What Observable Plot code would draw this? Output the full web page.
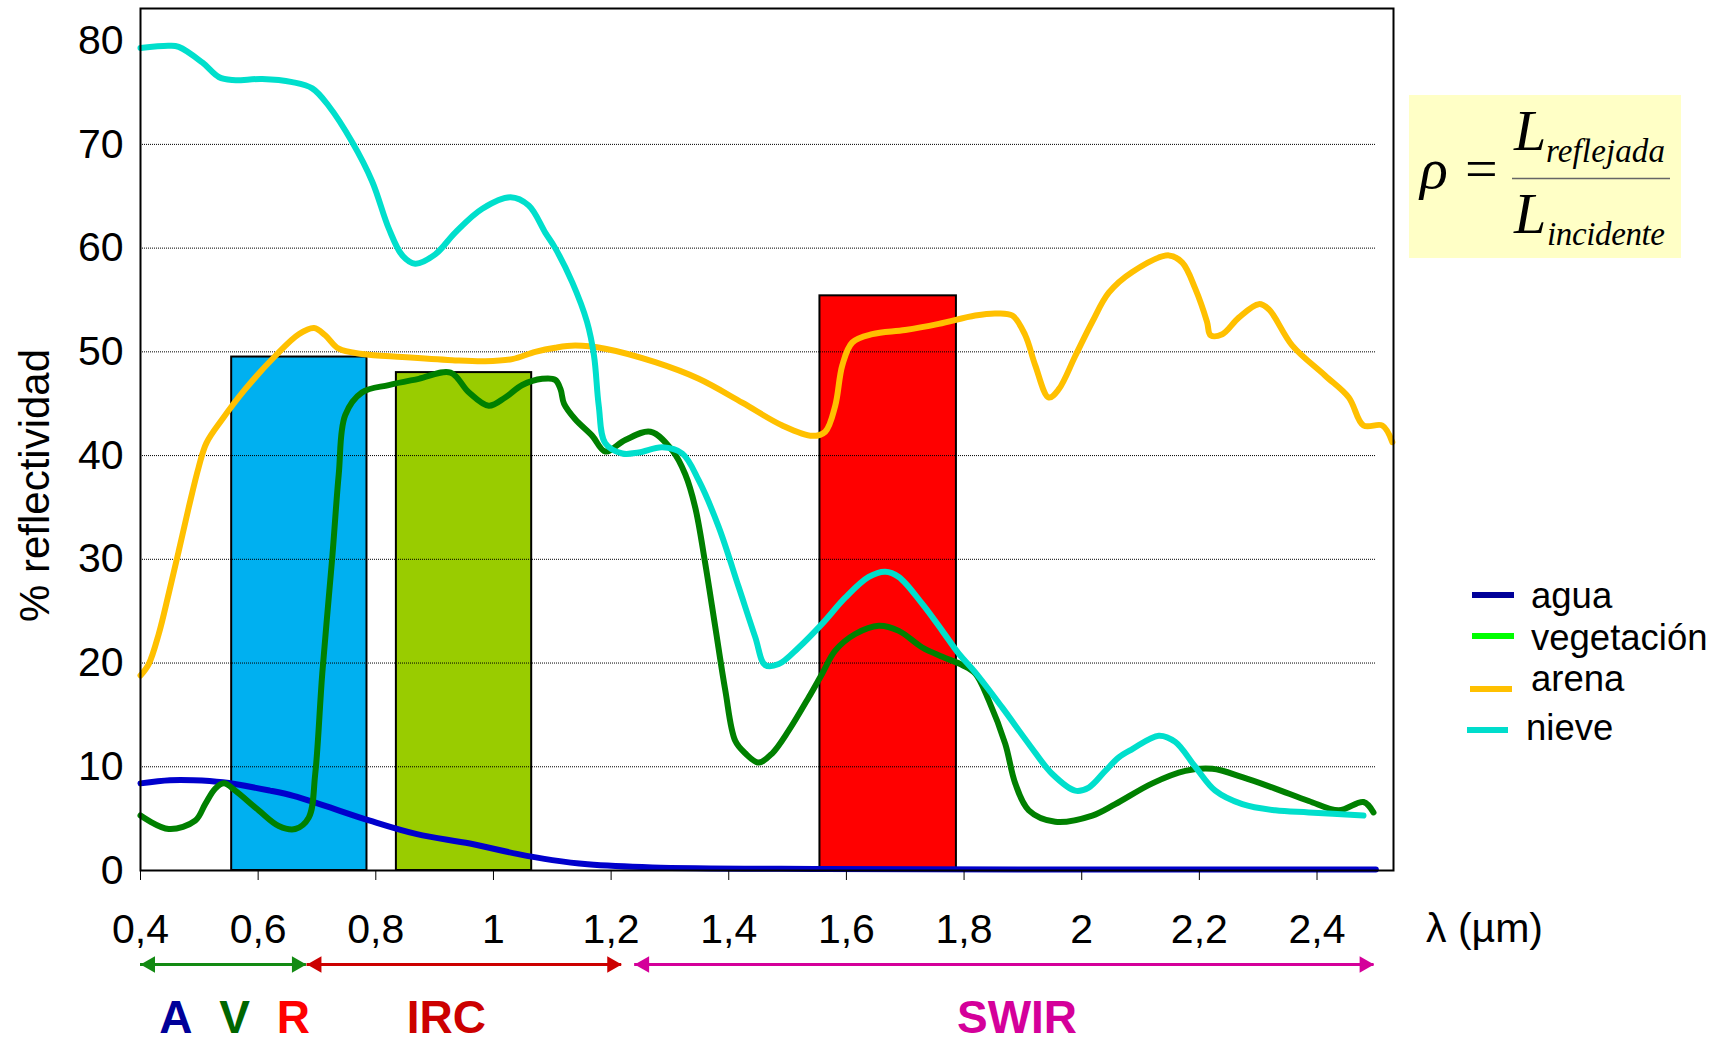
<!DOCTYPE html>
<html lang="es">
<head>
<meta charset="utf-8">
<script src="https://cdn.jsdelivr.net/npm/d3@7"></script>
<script src="https://cdn.jsdelivr.net/npm/@observablehq/plot@0.6"></script>
<style>
  html, body { margin: 0; padding: 0; background: #fff; }
  #wrap { position: relative; width: 1723px; height: 1046px; overflow: hidden; font-family: 'Liberation Sans', Arial, sans-serif; }
  #formula { position: absolute; left: 1409px; top: 95px; width: 272px; height: 163px; background: #FFFFC6; }
  #legend { position: absolute; left: 1460px; top: 570px; }
</style>
</head>
<body>
<div id="wrap"></div>
<script>
// Spectral reflectance curves: [wavelength µm, % reflectance]
const agua = [[0.40,8.4],[0.45,8.7],[0.49,8.7],[0.54,8.5],[0.62,7.7],[0.66,7.2],[0.71,6.3],[0.79,4.8],[0.87,3.5],[0.96,2.6],[1.04,1.6],[1.10,1.0],[1.16,0.6],[1.27,0.3],[1.56,0.15],[2.0,0.1],[2.5,0.1]];

const vegetacion = [[0.40,5.3],[0.448,4.0],[0.493,4.8],[0.51,6.4],[0.527,7.9],[0.542,8.4],[0.561,7.7],[0.601,5.8],[0.635,4.3],[0.663,4.0],[0.686,5.1],[0.697,9.3],[0.709,19.0],[0.726,30.2],[0.737,38.2],[0.748,43.9],[0.777,46.1],[0.822,46.8],[0.873,47.4],[0.927,48.0],[0.958,46.1],[0.992,44.8],[1.02,45.6],[1.049,46.8],[1.083,47.4],[1.105,47.3],[1.114,46.4],[1.12,45.0],[1.139,43.5],[1.168,41.9],[1.19,40.4],[1.224,41.5],[1.267,42.3],[1.304,40.5],[1.326,38.2],[1.343,35.0],[1.36,29.6],[1.377,23.5],[1.394,17.4],[1.411,12.5],[1.428,11.3],[1.451,10.4],[1.474,11.3],[1.502,13.5],[1.536,16.7],[1.559,19.0],[1.581,21.2],[1.615,22.8],[1.655,23.6],[1.689,23.1],[1.729,21.5],[1.763,20.6],[1.797,19.8],[1.819,19.0],[1.842,16.4],[1.87,12.2],[1.887,8.4],[1.91,5.8],[1.955,4.7],[2.018,5.3],[2.057,6.4],[2.12,8.4],[2.176,9.6],[2.222,9.8],[2.273,9.0],[2.329,7.9],[2.386,6.7],[2.437,5.8],[2.479,6.6],[2.496,5.6]];

const arena = [[0.40,18.8],[0.414,19.9],[0.431,22.8],[0.448,26.7],[0.465,30.8],[0.482,35.0],[0.499,38.9],[0.512,41.2],[0.539,43.5],[0.578,46.4],[0.629,49.6],[0.669,51.7],[0.695,52.3],[0.714,51.6],[0.737,50.3],[0.777,49.8],[0.845,49.5],[0.93,49.2],[0.986,49.1],[1.032,49.3],[1.071,50.0],[1.105,50.4],[1.139,50.6],[1.19,50.3],[1.275,49.0],[1.349,47.4],[1.423,45.1],[1.491,42.9],[1.542,41.9],[1.564,42.3],[1.581,44.8],[1.593,48.7],[1.61,50.9],[1.644,51.7],[1.70,52.1],[1.757,52.7],[1.819,53.5],[1.853,53.7],[1.882,53.5],[1.904,51.6],[1.921,48.7],[1.944,45.6],[1.961,46.4],[1.989,49.6],[2.018,52.9],[2.046,55.7],[2.086,57.7],[2.148,59.3],[2.171,58.6],[2.193,56.1],[2.213,52.9],[2.219,51.6],[2.239,51.7],[2.267,53.3],[2.301,54.6],[2.318,54.1],[2.358,50.6],[2.414,47.7],[2.454,45.6],[2.479,42.9],[2.511,42.9],[2.528,41.3]];

const nieve = [[0.40,79.3],[0.448,79.5],[0.465,79.4],[0.505,77.9],[0.533,76.5],[0.556,76.2],[0.607,76.3],[0.658,76.0],[0.692,75.4],[0.72,73.7],[0.76,70.2],[0.794,66.4],[0.822,61.9],[0.845,59.3],[0.867,58.5],[0.901,59.4],[0.935,61.5],[0.981,63.8],[1.029,64.9],[1.06,64.1],[1.088,61.5],[1.105,60.0],[1.134,56.7],[1.159,52.9],[1.171,49.6],[1.179,44.8],[1.19,41.2],[1.219,40.2],[1.247,40.3],[1.287,40.8],[1.321,40.2],[1.349,37.6],[1.383,33.1],[1.417,27.3],[1.445,22.5],[1.462,19.8],[1.485,19.9],[1.519,21.5],[1.559,23.8],[1.598,26.3],[1.638,28.3],[1.666,28.8],[1.689,28.3],[1.729,25.7],[1.763,23.1],[1.791,20.9],[1.819,19.1],[1.865,15.7],[1.91,12.2],[1.95,9.3],[1.989,7.7],[2.012,8.0],[2.04,9.6],[2.063,10.9],[2.086,11.7],[2.131,13.0],[2.159,12.4],[2.193,10.0],[2.227,7.7],[2.273,6.4],[2.329,5.8],[2.386,5.6],[2.479,5.3]];

const seriesNames = ["agua", "vegetación", "arena", "nieve"];
const seriesPoints = [agua, vegetacion, arena, nieve];

// Sensor bands drawn as bars
const barStart = [0.555, 0.835, 1.555];
const barEnd = [0.785, 1.065, 1.787];
const barTop = [49.5, 48.0, 55.4];

// Spectral regions below the axis
const regionStart = [0.40, 0.683, 1.24];
const regionEnd = [0.682, 1.218, 2.497];
const regionLabels = ["A", "V", "R", "IRC", "SWIR"];
const regionLabelX = [0.46, 0.56, 0.66, 0.92, 1.89];

const xTicks = [0.4, 0.6, 0.8, 1, 1.2, 1.4, 1.6, 1.8, 2, 2.2, 2.4];
const yTicks = [0, 10, 20, 30, 40, 50, 60, 70, 80];
const gridValues = [10, 20, 30, 40, 50, 60, 70];
const xDomain = [0.4, 2.53];
const gridRange = [0.4, 2.5];

// Styles
const lineColors = ["#0000CC", "#008000", "#FFC000", "#00DFCC"];
const legendColors = ["#000099", "#00FF00", "#FFC000", "#00DDCC"];
const barColors = ["#00B0F0", "#99CC00", "#FF0000"];
const regionColors = ["#138A13", "#CC0000", "#D4009A"];
const regionLabelColors = ["#000099", "#006600", "#FF0000", "#CC0000", "#D4009A"];

const curves = seriesNames.flatMap((name, i) =>
  seriesPoints[i].map(([x, y]) => ({name, x, y, color: lineColors[i]})));
const bars = barStart.map((s, i) => ({start: s, end: barEnd[i], top: barTop[i], color: barColors[i]}));
const regions = regionStart.map((s, i) => ({start: s, end: regionEnd[i], color: regionColors[i]}));
const labels = regionLabels.map((t, i) => ({text: t, x: regionLabelX[i], color: regionLabelColors[i]}));

const decimalComma = d => String(d).replace(".", ",");
const headTip = 9.65; // distance from triangle centre to its tip, for r = 6.2

const chart = Plot.plot({
  width: 1723,
  height: 1046,
  marginLeft: 140,
  marginRight: 330,
  marginTop: 8,
  marginBottom: 176,
  x: {domain: xDomain},
  y: {domain: [0, 83.1]},
  color: {type: "identity"},
  style: {fontFamily: "'Liberation Sans', Arial, sans-serif", fontSize: "41px", background: "white", overflow: "visible", color: "black"},
  marks: [
    Plot.rect(bars, {x1: "start", x2: "end", y1: () => 0, y2: "top", fill: "color", stroke: "black", strokeWidth: 2}),
    Plot.ruleY(gridValues, {x1: gridRange[0], x2: gridRange[1], stroke: "#000", strokeWidth: 1, strokeDasharray: "1,1"}),
    Plot.line(curves, {x: "x", y: "y", z: "name", stroke: "color", strokeWidth: 6, curve: "catmull-rom"}),
    Plot.frame({stroke: "black", strokeWidth: 2}),
    Plot.axisY({ticks: yTicks, tickSize: 0, tickPadding: 17, label: null}),
    Plot.axisX({ticks: xTicks, tickSize: 10, tickPadding: 33, tickFormat: decimalComma, label: null}),
    Plot.text(["% reflectividad"], {frameAnchor: "left", rotate: -90, dx: -105, dy: 46, textAnchor: "middle", lineAnchor: "middle", fontSize: 42, fill: "black"}),
    Plot.text(["λ (µm)"], {frameAnchor: "bottom-right", dx: 91, dy: 58.6, textAnchor: "middle", lineAnchor: "middle", fontSize: 41, fill: "black"}),
    // Double-headed arrows marking spectral regions
    Plot.ruleY(regions, {x1: "start", x2: "end", y: () => 0, dy: 94, stroke: "color", strokeWidth: 3}),
    Plot.dot(regions, {x: "start", y: () => 0, dy: 94, dx: headTip, symbol: "triangle", r: 6.2, rotate: -90, fill: "color", stroke: "none"}),
    Plot.dot(regions, {x: "end", y: () => 0, dy: 94, dx: -headTip, symbol: "triangle", r: 6.2, rotate: 90, fill: "color", stroke: "none"}),
    Plot.text(labels, {x: "x", y: () => 0, dy: 148, text: "text", fill: "color", fontSize: 46, fontWeight: "bold", textAnchor: "middle", lineAnchor: "middle"})
  ]
});

const wrap = document.getElementById("wrap");
wrap.append(chart);

// Reflectance formula box
const formula = d3.select(wrap).append("div").attr("id", "formula")
  .append("svg").attr("width", 272).attr("height", 163)
  .attr("font-family", "'Liberation Serif', 'Times New Roman', serif");
formula.append("text").attr("x", 11).attr("y", 93).attr("font-size", 58).attr("font-style", "italic").text("ρ");
formula.append("text").attr("x", 56).attr("y", 93).attr("font-size", 58).text("=");
formula.append("line").attr("x1", 103).attr("x2", 261).attr("y1", 83.5).attr("y2", 83.5).attr("stroke", "#666").attr("stroke-width", 1.5);
formula.append("text").attr("x", 105).attr("y", 55).attr("font-size", 58).attr("font-style", "italic").text("L");
formula.append("text").attr("x", 137).attr("y", 67).attr("font-size", 33).attr("font-style", "italic").attr("textLength", 119).attr("lengthAdjust", "spacing").text("reflejada");
formula.append("text").attr("x", 105).attr("y", 138).attr("font-size", 58).attr("font-style", "italic").text("L");
formula.append("text").attr("x", 138).attr("y", 150).attr("font-size", 33).attr("font-style", "italic").attr("textLength", 118).attr("lengthAdjust", "spacing").text("incidente");

// Series legend
const legendRows = [
  {line: [12, 54], lineY: 25, textX: 71, textY: 38},
  {line: [12, 54], lineY: 66, textX: 71, textY: 79.6},
  {line: [10, 52], lineY: 119, textX: 71, textY: 121},
  {line: [7, 48], lineY: 160, textX: 66, textY: 170}
];
const legend = d3.select(wrap).append("svg").attr("id", "legend")
  .attr("width", 263).attr("height", 190)
  .attr("font-family", "'Liberation Sans', Arial, sans-serif");
seriesNames.forEach((name, i) => {
  const r = legendRows[i];
  legend.append("line").attr("x1", r.line[0]).attr("x2", r.line[1]).attr("y1", r.lineY).attr("y2", r.lineY)
    .attr("stroke", legendColors[i]).attr("stroke-width", 6);
  legend.append("text").attr("x", r.textX).attr("y", r.textY).attr("font-size", 36.5).attr("fill", "black").text(name);
});
</script>
</body>
</html>
